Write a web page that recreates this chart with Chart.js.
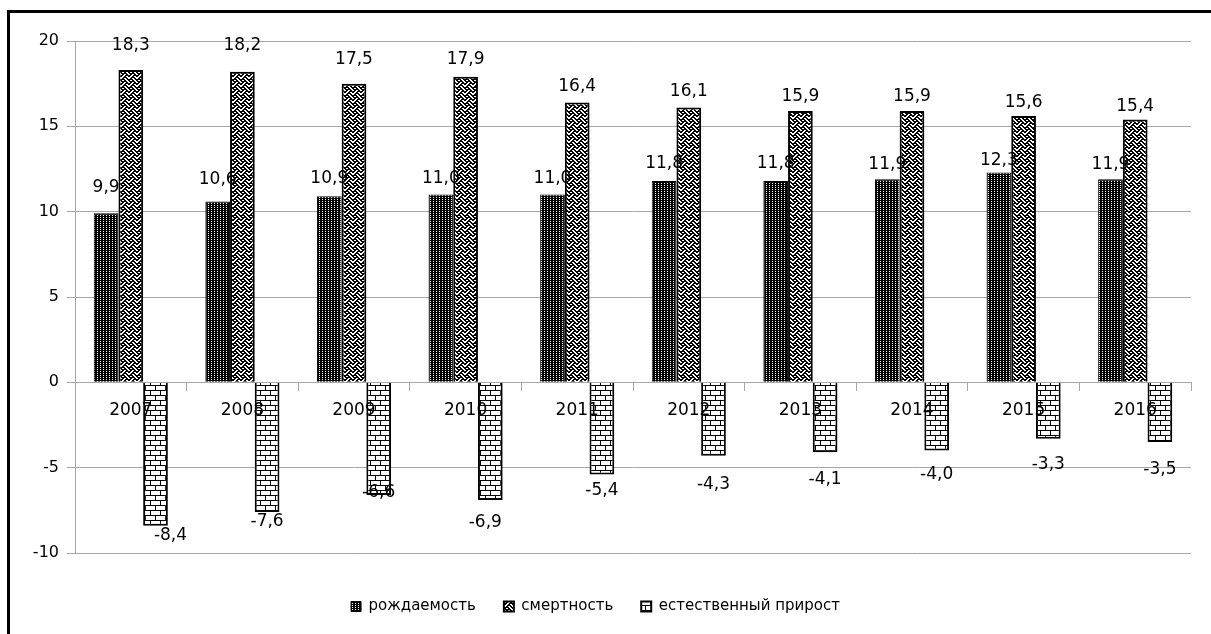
<!DOCTYPE html>
<html lang="ru">
<head>
<meta charset="UTF-8">
<title>Рождаемость, смертность, естественный прирост</title>
<script src="https://cdn.jsdelivr.net/npm/chart.js"></script>
<style>
    html, body {
        margin: 0;
        padding: 0;
        background: #fff;
        overflow: hidden;
        width: 1211px;
        height: 634px;
    }
    .frame {
        position: absolute;
        left: 7px;
        top: 10px;
        width: 1300px;
        height: 700px;
        border: 3px solid #000;
    }
    canvas {
        position: absolute;
        left: 0;
        top: 0;
    }
</style>
</head>
<body>
<div class="frame"></div>
<canvas id="chart" width="1211" height="634"></canvas>

<script>
// values per 1000 population
const years = ['2007', '2008', '2009', '2010', '2011', '2012', '2013', '2014', '2015', '2016'];
const births = [9.9, 10.6, 10.9, 11.0, 11.0, 11.8, 11.8, 11.9, 12.3, 11.9];
const deaths = [18.3, 18.2, 17.5, 17.9, 16.4, 16.1, 15.9, 15.9, 15.6, 15.4];
const natural = [-8.4, -7.6, -6.6, -6.9, -5.4, -4.3, -4.1, -4.0, -3.3, -3.5];
const seriesNames = ['рождаемость', 'смертность', 'естественный прирост'];

// hand-placed label nudges (px from the end of each bar)
const birthsLift = [26, 22, 18, 16, 16, 17, 17, 15, 12, 15];
const deathsLift = [24, 26, 24, 17, 16, 16, 14, 14, 14, 13];
const naturalDrop = [10, 10, -2, 22, 16, 29, 27, 24, 26, 28];
const naturalShift = [15, 0, 0, -5, 0, 0, 0, 0, 0, 0];

const FONT = 'DejaVu Sans';
const GRID = '#a6a6a6';

function makePattern(w, h, draw) {
    const c = document.createElement('canvas');
    c.width = w;
    c.height = h;
    const g = c.getContext('2d');
    draw(g);
    return document.getElementById('chart').getContext('2d').createPattern(c, 'repeat');
}

// dense dots: black with small white holes
const dotPattern = makePattern(3, 2, g => {
    g.fillStyle = '#000';
    g.fillRect(0, 0, 3, 2);
    g.fillStyle = '#fff';
    g.fillRect(1, 1, 1, 1);
});

// weave, strokes doubled so it reads darker
const weaveBits = [0x88, 0x54, 0x22, 0x45, 0x88, 0x14, 0x22, 0x51];
const weavePattern = makePattern(8, 8, g => {
    g.fillStyle = '#fff';
    g.fillRect(0, 0, 8, 8);
    g.fillStyle = '#000';
    weaveBits.forEach((row, y) => {
        for (let x = 0; x < 8; x++) {
            if (row & (0x80 >> x)) {
                g.fillRect(x, y, 1, 1);
                g.fillRect((x + 1) % 8, y, 1, 1);
            }
        }
    });
});

// bricks
const brickPattern = makePattern(10, 10, g => {
    g.fillStyle = '#fff';
    g.fillRect(0, 0, 10, 10);
    g.fillStyle = '#000';
    g.fillRect(0, 0, 10, 1);
    g.fillRect(0, 5, 10, 1);
    g.fillRect(0, 1, 1, 4);
    g.fillRect(5, 6, 1, 4);
});

const valueLabels = {
    id: 'valueLabels',
    afterDatasetsDraw(chart) {
        const ctx = chart.ctx;
        ctx.save();
        ctx.font = '17px "' + FONT + '"';
        ctx.fillStyle = '#000';
        ctx.textAlign = 'center';
        ctx.textBaseline = 'middle';
        chart.data.datasets.forEach((ds, di) => {
            const meta = chart.getDatasetMeta(di);
            meta.data.forEach((bar, i) => {
                const v = ds.data[i];
                const text = v.toFixed(1).replace('.', ',');
                let x = bar.x;
                let y;
                if (di === 0) y = bar.y - birthsLift[i];
                else if (di === 1) y = bar.y - deathsLift[i];
                else {
                    y = bar.y + naturalDrop[i];
                    x += naturalShift[i];
                }
                ctx.fillText(text, x, y);
            });
        });
        ctx.restore();
    }
};

new Chart(document.getElementById('chart'), {
    type: 'bar',
    data: {
        labels: years,
        datasets: [
            {
                label: seriesNames[0],
                data: births,
                backgroundColor: dotPattern,
                borderColor: '#000',
                borderWidth: 1,
                categoryPercentage: 0.664,
                barPercentage: 1
            },
            {
                label: seriesNames[1],
                data: deaths,
                backgroundColor: weavePattern,
                borderColor: '#000',
                borderWidth: 2,
                categoryPercentage: 0.664,
                barPercentage: 1
            },
            {
                label: seriesNames[2],
                data: natural,
                backgroundColor: brickPattern,
                borderColor: '#000',
                borderWidth: 2,
                categoryPercentage: 0.664,
                barPercentage: 1
            }
        ]
    },
    options: {
        responsive: false,
        animation: false,
        layout: {
            padding: { left: 0, right: 20, top: 41, bottom: 10 }
        },
        scales: {
            x: {
                position: { y: 0 },
                offset: true,
                grid: {
                    offset: true,
                    drawOnChartArea: false,
                    drawTicks: true,
                    tickLength: 8,
                    color: GRID
                },
                border: { display: true, color: GRID },
                ticks: {
                    z: 1,
                    padding: 10,
                    color: '#000',
                    font: { family: FONT, size: 17 },
                    maxRotation: 0
                }
            },
            y: {
                min: -10,
                max: 20,
                ticks: {
                    stepSize: 5,
                    padding: 8,
                    color: '#000',
                    font: { family: FONT, size: 16 }
                },
                grid: {
                    color: GRID,
                    tickLength: 8
                },
                border: { display: true, color: GRID },
                afterFit(scale) {
                    scale.width = 75;
                }
            }
        },
        plugins: {
            legend: {
                position: 'bottom',
                title: {
                    display: true,
                    text: '',
                    font: { size: 10 },
                    padding: { top: 0, bottom: 6 }
                },
                labels: {
                    boxWidth: 10,
                    boxHeight: 10,
                    padding: 28,
                    color: '#000',
                    font: { family: FONT, size: 15 }
                }
            },
            tooltip: { enabled: false }
        }
    },
    plugins: [valueLabels]
});
</script>
</body>
</html>
